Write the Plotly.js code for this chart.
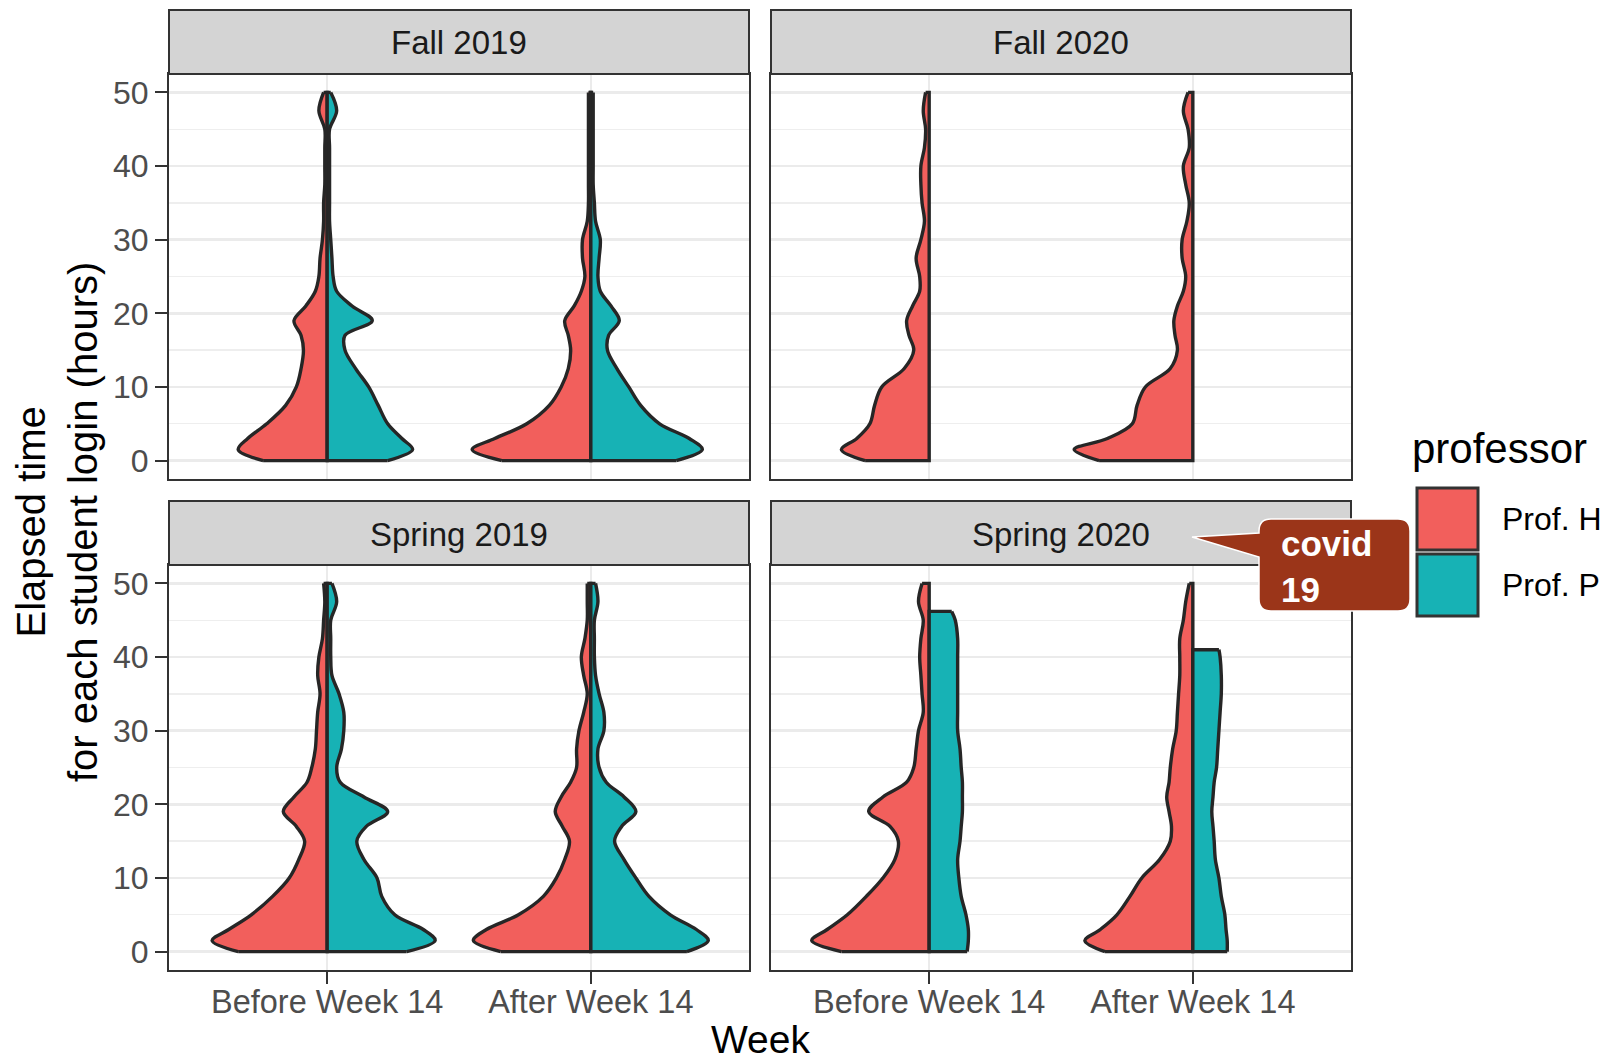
<!DOCTYPE html>
<html><head><meta charset="utf-8">
<script src="https://cdn.plot.ly/plotly-3.0.1.min.js"></script>
<style>html,body{margin:0;padding:0;background:#fff}</style>
</head><body><div id="chart" style="width:1608px;height:1064px"></div>
<script>
// ---------------- data ----------------
const semesters = ["Fall 2019", "Fall 2020", "Spring 2019", "Spring 2020"];
const weeks = ["Before Week 14", "After Week 14"];
const professors = ["Prof. H", "Prof. P"];
const hourTicks = [0, 10, 20, 30, 40, 50];

// elapsed-time levels (hours) at which the violin densities were read
const hours = [0, 1.5, 3, 5, 7.5, 10, 12.5, 15, 17, 19, 21, 23, 25, 27.5, 30, 32.5, 35, 37.5, 40, 42.5, 45, 47.5, 50];
const hoursSpring2020BeforeP = [0, 1.5, 3, 5, 7.5, 10, 12.5, 15, 17, 19, 21, 23, 25, 27.5, 30, 32.5, 35, 37.5, 40, 42.5, 45, 46.2];
const hoursSpring2020AfterP = [0, 1.5, 3, 5, 7.5, 10, 12.5, 15, 17, 19, 21, 23, 25, 27.5, 30, 32.5, 35, 37.5, 40, 41];

// scaled kernel densities (1 = widest half violin)
const fall2019BeforeH = [0.54,0.75,0.67,0.51,0.35,0.26,0.22,0.20,0.22,0.28,0.18,0.10,0.07,0.06,0.04,0.03,0.03,0.02,0.02,0.02,0.02,0.07,0.03];
const fall2019BeforeP = [0.51,0.72,0.63,0.51,0.43,0.35,0.24,0.15,0.15,0.38,0.21,0.08,0.05,0.04,0.03,0.02,0.02,0.02,0.02,0.02,0.02,0.08,0.03];
const fall2019AfterH  = [0.75,1.00,0.81,0.54,0.35,0.25,0.19,0.17,0.19,0.22,0.14,0.08,0.05,0.07,0.07,0.03,0.02,0.02,0.02,0.02,0.02,0.02,0.02];
const fall2019AfterP  = [0.72,0.94,0.83,0.58,0.42,0.32,0.22,0.14,0.15,0.24,0.17,0.08,0.06,0.07,0.08,0.04,0.03,0.02,0.02,0.02,0.02,0.02,0.02];
const fall2020BeforeH = [0.54,0.74,0.61,0.50,0.46,0.40,0.21,0.13,0.17,0.19,0.14,0.08,0.08,0.11,0.07,0.04,0.06,0.07,0.07,0.04,0.03,0.05,0.03];
const fall2020AfterH  = [0.79,1.00,0.72,0.51,0.47,0.40,0.19,0.13,0.15,0.16,0.13,0.08,0.06,0.09,0.09,0.05,0.03,0.06,0.08,0.03,0.04,0.08,0.04];
const spring2019BeforeH = [0.75,0.97,0.83,0.64,0.46,0.32,0.24,0.19,0.26,0.37,0.28,0.17,0.13,0.10,0.09,0.08,0.06,0.08,0.07,0.04,0.03,0.02,0.03];
const spring2019BeforeP = [0.67,0.91,0.81,0.57,0.46,0.42,0.31,0.25,0.33,0.51,0.31,0.11,0.08,0.12,0.14,0.14,0.10,0.04,0.03,0.03,0.03,0.08,0.04];
const spring2019AfterH  = [0.76,0.99,0.88,0.61,0.40,0.29,0.22,0.18,0.24,0.30,0.25,0.17,0.12,0.12,0.10,0.06,0.03,0.06,0.08,0.05,0.03,0.03,0.03];
const spring2019AfterP  = [0.81,0.99,0.89,0.67,0.49,0.38,0.28,0.20,0.26,0.38,0.28,0.13,0.07,0.06,0.11,0.11,0.07,0.04,0.03,0.03,0.03,0.06,0.04];
const spring2020BeforeH = [0.74,0.99,0.86,0.69,0.53,0.39,0.29,0.26,0.33,0.51,0.39,0.19,0.13,0.11,0.09,0.05,0.06,0.07,0.08,0.07,0.05,0.09,0.06];
const spring2020BeforeP = [0.32,0.33,0.33,0.31,0.27,0.25,0.24,0.26,0.27,0.28,0.28,0.28,0.27,0.26,0.24,0.24,0.24,0.24,0.24,0.24,0.22,0.19];
const spring2020AfterH  = [0.74,0.91,0.78,0.64,0.53,0.43,0.28,0.19,0.18,0.20,0.22,0.20,0.19,0.17,0.14,0.13,0.12,0.11,0.11,0.11,0.08,0.06,0.03];
const spring2020AfterP  = [0.29,0.29,0.28,0.27,0.24,0.22,0.19,0.18,0.17,0.16,0.17,0.18,0.20,0.21,0.22,0.23,0.24,0.24,0.23,0.22];

const annotationLines = ["covid", "19"];

// ---------------- build ----------------
const violins = [
  [semesters[0], weeks[0], professors[0], hours, fall2019BeforeH],
  [semesters[0], weeks[0], professors[1], hours, fall2019BeforeP],
  [semesters[0], weeks[1], professors[0], hours, fall2019AfterH],
  [semesters[0], weeks[1], professors[1], hours, fall2019AfterP],
  [semesters[1], weeks[0], professors[0], hours, fall2020BeforeH],
  [semesters[1], weeks[1], professors[0], hours, fall2020AfterH],
  [semesters[2], weeks[0], professors[0], hours, spring2019BeforeH],
  [semesters[2], weeks[0], professors[1], hours, spring2019BeforeP],
  [semesters[2], weeks[1], professors[0], hours, spring2019AfterH],
  [semesters[2], weeks[1], professors[1], hours, spring2019AfterP],
  [semesters[3], weeks[0], professors[0], hours, spring2020BeforeH],
  [semesters[3], weeks[0], professors[1], hoursSpring2020BeforeP, spring2020BeforeP],
  [semesters[3], weeks[1], professors[0], hours, spring2020AfterH],
  [semesters[3], weeks[1], professors[1], hoursSpring2020AfterP, spring2020AfterP]
];

const W = 1608, H = 1064;
const colors = {"Prof. H": "#F25F5C", "Prof. P": "#17B2B5"};
const OUTLINE = "#262626";
const LW = 3.4;
const HALF = 0.45;
const axisSuffix = ["", "2", "3", "4"];

const traces = [];
violins.forEach(([sem, wk, prof, ys, dens]) => {
  const k = semesters.indexOf(sem);
  const c = weeks.indexOf(wk) + 1;
  const sgn = prof === professors[0] ? -1 : 1;
  const xs = dens.map(d => c + sgn * HALF * d);
  const n = ys.length;
  const xa = "x" + axisSuffix[k], ya = "y" + axisSuffix[k];
  // straight part of the outline: bottom edge, centre line, top edge
  traces.push({
    type: "scatter", mode: "lines",
    x: [xs[0], c, c, xs[n - 1]], y: [ys[0], ys[0], ys[n - 1], ys[n - 1]],
    xaxis: xa, yaxis: ya,
    line: {color: OUTLINE, width: LW, shape: "linear"},
    hoverinfo: "skip", showlegend: false
  });
  // density curve, filled back to the straight part
  traces.push({
    type: "scatter", mode: "lines", x: xs, y: ys,
    xaxis: xa, yaxis: ya,
    fill: "tonextx", fillcolor: colors[prof],
    line: {color: OUTLINE, width: LW, shape: "spline", smoothing: 1},
    hoverinfo: "skip", showlegend: false, name: prof
  });
});

// panel geometry (pixels)
const colX = [[169, 749], [771, 1351]];
const rowY = [[74, 479], [565, 970]];
const stripY = [[10, 74], [501, 565]];
const px = v => v / W;
const py = v => 1 - v / H;

const font = "Liberation Sans, Arial, Helvetica, sans-serif";
const layout = {
  width: W, height: H,
  margin: {l: 0, r: 0, t: 0, b: 0, pad: 0},
  paper_bgcolor: "#ffffff", plot_bgcolor: "#ffffff",
  font: {family: font, color: "#1A1A1A"},
  showlegend: false,
  shapes: [], annotations: []
};

semesters.forEach((sem, k) => {
  const col = k % 2, row = Math.floor(k / 2);
  const s = axisSuffix[k];
  const bottom = row === 1, left = col === 0;
  layout["xaxis" + s] = {
    domain: [px(colX[col][0]), px(colX[col][1])],
    anchor: "y" + s, range: [0.4, 2.6],
    tickmode: "array", tickvals: [1, 2], ticktext: weeks,
    showticklabels: bottom, ticks: bottom ? "outside" : "",
    ticklen: 12, tickwidth: 2, tickcolor: "#333333",
    ticklabelstandoff: -10,
    tickfont: {size: 32.5, color: "#4D4D4D", family: font},
    showgrid: true, gridcolor: "#EBEBEB", gridwidth: 2.4,
    zeroline: false, showline: true, mirror: true,
    linecolor: "#333333", linewidth: 2, fixedrange: true
  };
  layout["yaxis" + s] = {
    domain: [py(rowY[row][1]), py(rowY[row][0])],
    anchor: "x" + s, range: [-2.5, 52.5],
    tickmode: "array", tickvals: hourTicks, ticktext: hourTicks.map(String),
    showticklabels: left, ticks: left ? "outside" : "",
    ticklen: 12, tickwidth: 2, tickcolor: "#333333",
    tickfont: {size: 32, color: "#4D4D4D", family: font},
    showgrid: true, gridcolor: "#EBEBEB", gridwidth: 2.4,
    minor: {tickmode: "array", tickvals: [5, 15, 25, 35, 45], showgrid: true, gridcolor: "#EEEEEE", gridwidth: 1.3, ticks: ""},
    zeroline: false, showline: true, mirror: true,
    linecolor: "#333333", linewidth: 2, fixedrange: true
  };
  // strip
  layout.shapes.push({
    type: "rect", xref: "paper", yref: "paper",
    x0: px(colX[col][0]), x1: px(colX[col][1]),
    y0: py(stripY[row][1]), y1: py(stripY[row][0]),
    fillcolor: "#D4D4D4", line: {color: "#333333", width: 2}, layer: "above"
  });
  layout.annotations.push({
    xref: "paper", yref: "paper",
    x: px((colX[col][0] + colX[col][1]) / 2), y: py((stripY[row][0] + stripY[row][1]) / 2 + 1),
    xanchor: "center", yanchor: "middle", showarrow: false,
    text: sem, font: {size: 33, color: "#1A1A1A", family: font}
  });
});

// axis titles
layout.annotations.push({
  xref: "paper", yref: "paper", x: px(760), y: py(1039),
  xanchor: "center", yanchor: "middle", showarrow: false,
  text: "Week", font: {size: 39, color: "#000000", family: font}
});
layout.annotations.push({
  xref: "paper", yref: "paper", x: px(57), y: py(522),
  xanchor: "center", yanchor: "middle", showarrow: false, textangle: -90,
  text: "Elapsed time<br>for each student login (hours)",
  font: {size: 40, color: "#000000", family: font}
});

// legend (manual, ggplot style)
layout.annotations.push({
  xref: "paper", yref: "paper", x: px(1410), y: py(448),
  xanchor: "left", yanchor: "middle", showarrow: false,
  text: "professor", font: {size: 42, color: "#000000", family: font}
});
professors.forEach((p, i) => {
  const top = 488 + i * 66;
  layout.shapes.push({
    type: "rect", xref: "paper", yref: "paper",
    x0: px(1417), x1: px(1478), y0: py(top + 62), y1: py(top),
    fillcolor: colors[p], line: {color: "#333333", width: 3}
  });
  layout.annotations.push({
    xref: "paper", yref: "paper", x: px(1500), y: py(top + 31),
    xanchor: "left", yanchor: "middle", showarrow: false,
    text: p, font: {size: 32, color: "#000000", family: font}
  });
});

// covid callout
const P = (x, y) => px(x).toFixed(5) + "," + py(y).toFixed(5);
const calloutPath = "M" + P(1271, 519) + " L" + P(1398, 519) + " Q" + P(1410, 519) + " " + P(1410, 531) +
  " L" + P(1410, 599) + " Q" + P(1410, 611) + " " + P(1398, 611) + " L" + P(1271, 611) +
  " Q" + P(1259, 611) + " " + P(1259, 599) + " L" + P(1259, 557) + " L" + P(1192, 537) +
  " L" + P(1259, 533) + " L" + P(1259, 531) + " Q" + P(1259, 519) + " " + P(1271, 519) + " Z";
layout.shapes.push({
  type: "path", xref: "paper", yref: "paper", path: calloutPath,
  fillcolor: "#9B3519", line: {color: "#ffffff", width: 1.5}, layer: "above"
});
layout.annotations.push({
  xref: "paper", yref: "paper", x: px(1279), y: py(566),
  xanchor: "left", yanchor: "middle", align: "left", showarrow: false,
  text: annotationLines.map(t => "<b>" + t + "</b>").join("<br>"),
  font: {size: 35, color: "#ffffff", family: font}
});

Plotly.newPlot("chart", traces, layout, {staticPlot: true, displayModeBar: false});
</script>
</body></html>
